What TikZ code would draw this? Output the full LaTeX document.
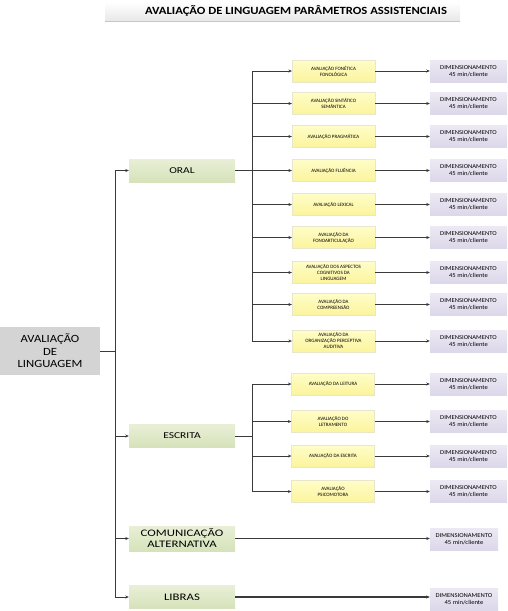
\documentclass[tikz,border=0pt]{standalone}
\usepackage{fontspec}
\setmainfont{Carlito}
\newfontfamily\widefont[FakeStretch=1.28]{Carlito}
\newfontfamily\rootfont[FakeStretch=1.15]{Carlito}
\newfontfamily\dimfont[FakeStretch=1.1]{Carlito}
\usetikzlibrary{arrows.meta,positioning,calc}

\definecolor{lineC}{HTML}{3A3A3A}
\definecolor{rootC}{HTML}{D4D4D4}
\definecolor{greenT}{HTML}{E8EFD6}
\definecolor{greenB}{HTML}{D6E2BA}
\definecolor{yellT}{HTML}{FFFDC8}
\definecolor{yellB}{HTML}{FBF49C}
\definecolor{lavT}{HTML}{ECE9F4}
\definecolor{lavB}{HTML}{DCD7E9}

\begin{document}
\begin{tikzpicture}[x=1pt,y=-1pt,
    rootbox/.style={fill=rootC, minimum width=100pt, minimum height=48pt, inner sep=1pt,
        align=center, font=\rootfont\fontsize{11}{12.5}\selectfont},
    mainbox/.style={top color=greenT, bottom color=greenB, minimum width=106pt, minimum height=23pt,
        inner sep=1pt, align=center, font=\widefont\fontsize{9}{10}\selectfont},
    evalbox/.style={top color=yellT, bottom color=yellB, draw=yellB!80!black!40, line width=0.2pt,
        minimum width=83pt, minimum height=22pt, inner sep=1pt, align=center,
        font=\fontsize{5}{6}\selectfont},
    dimbox/.style={top color=lavT, bottom color=lavB, minimum width=77pt, minimum height=22pt,
        inner sep=1pt, align=center, font=\dimfont\fontsize{6}{7}\selectfont},
    link/.style={draw=lineC, line width=0.8pt, -{Stealth[length=3.5pt,width=3pt]}}]

    \useasboundingbox (0,0) rectangle (508,611);

    % title band
    \shade[top color=white, bottom color=gray!18] (105,2) rectangle (460,21);
    \draw[gray!45, line width=0.8pt] (105,21.5) -- (460,21.5);
    \node[font=\rootfont\bfseries\fontsize{11}{12}\selectfont] (title) at (296,11) {AVALIAÇÃO DE LINGUAGEM PARÂMETROS ASSISTENCIAIS};

    % root and first level
    \node[rootbox] (root) at (50,351) {AVALIAÇÃO\\DE\\LINGUAGEM};
    \node[mainbox] (oral) at (182,170.5) {ORAL};
    \node[mainbox] (escrita) at (182,436) {ESCRITA};
    \node[mainbox, minimum height=25pt, font=\widefont\fontsize{10}{11}\selectfont] (comalt) at (182,538.5) {COMUNICAÇÃO\\ALTERNATIVA};
    \node[mainbox, font=\widefont\fontsize{10}{11}\selectfont] (libras) at (182,597) {LIBRAS};

    \coordinate (trunk) at (115,351);
    \foreach \m in {oral,escrita,comalt,libras}
        \draw[link] (root.east) -- (trunk) |- (\m.west);

    % oral branch
    \coordinate (oraltrunk) at (252,170.5);
    \foreach \n/\y/\t in {o1/71/{AVALIAÇÃO FONÉTICA\\FONOLÓGICA},
                          o2/103.5/{AVALIAÇÃO SINTÁTICO\\SEMÂNTICA},
                          o3/136.5/{AVALIAÇÃO PRAGMÁTICA},
                          o4/170.5/{AVALIAÇÃO FLUÊNCIA},
                          o5/204.5/{AVALIAÇÃO LEXICAL},
                          o6/237.5/{AVALIAÇÃO DA\\FONOARTICULAÇÃO},
                          o7/272.5/{AVALIAÇÃO DOS ASPECTOS\\COGNITIVOS DA\\LINGUAGEM},
                          o8/304.5/{AVALIAÇÃO DA\\COMPREENSÃO},
                          o9/341/{AVALIAÇÃO DA\\ORGANIZAÇÃO PERCEPTIVA\\AUDITIVA}} {
        \node[evalbox] (\n) at (333.5,\y) {\t};
        \node[dimbox] (d\n) at (468.5,\y) {DIMENSIONAMENTO\\45 min/cliente};
        \draw[link] (oral.east) -- (oraltrunk) |- (\n.west);
        \draw[link] (\n.east) -- (d\n.west);
    }

    % escrita branch
    \coordinate (escritatrunk) at (252,436);
    \foreach \n/\y/\t in {e1/384/{AVALIAÇÃO DA LEITURA},
                          e2/421.5/{AVALIAÇÃO DO\\LETRAMENTO},
                          e3/456/{AVALIAÇÃO DA ESCRITA},
                          e4/491.5/{AVALIAÇÃO\\PSICOMOTORA}} {
        \node[evalbox] (\n) at (333,\y) {\t};
        \node[dimbox] (d\n) at (468.5,\y) {DIMENSIONAMENTO\\45 min/cliente};
        \draw[link] (escrita.east) -- (escritatrunk) |- (\n.west);
        \draw[link] (\n.east) -- (d\n.west);
    }

    % single dimensionamento boxes
    \node[dimbox, minimum width=68pt] (dcomalt) at (464,539) {DIMENSIONAMENTO\\45 min/cliente};
    \node[dimbox, minimum width=68pt] (dlibras) at (464,599) {DIMENSIONAMENTO\\45 min/cliente};
    \draw[link] (comalt.east) -- (comalt.east -| dcomalt.west);
    \draw[link, line width=1.3pt] (libras.east) -- (libras.east -| dlibras.west);
\end{tikzpicture}
\end{document}
